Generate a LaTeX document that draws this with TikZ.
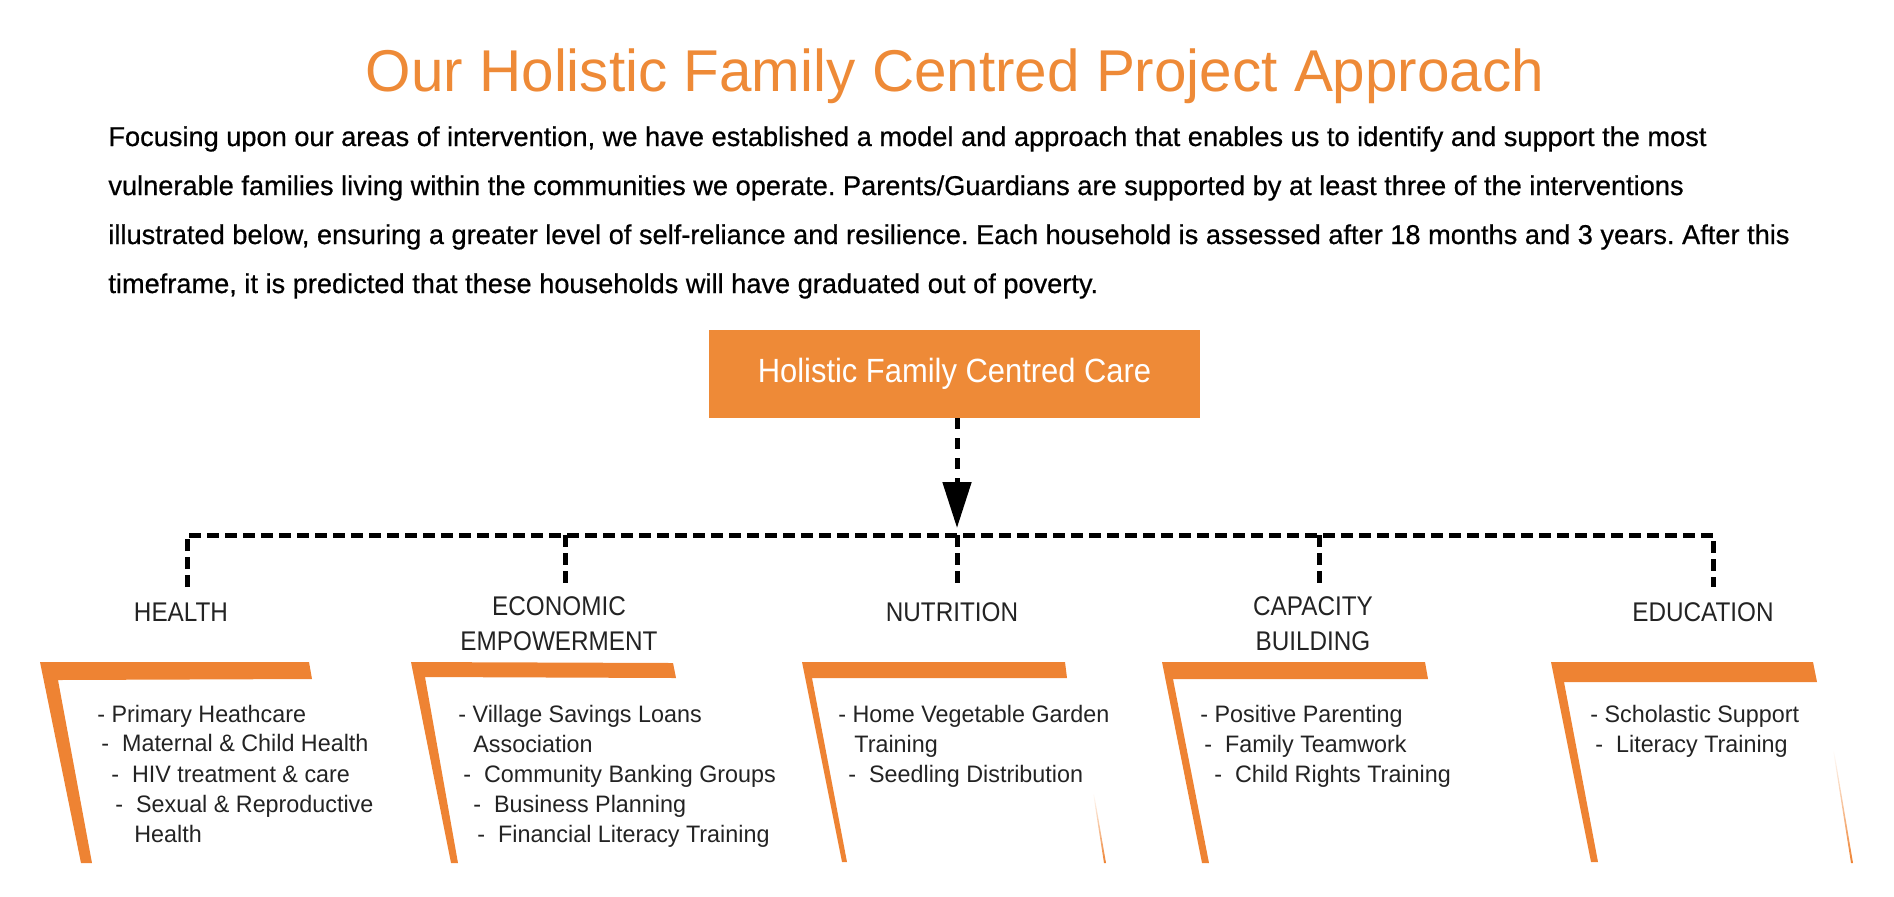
\documentclass[tikz,border=0pt]{standalone}
\usepackage{fontspec}
\setmainfont{Liberation Sans}[FakeStretch=0.98]
\newfontfamily\titleface{Liberation Sans}[FakeStretch=0.99]
\newfontfamily\paraface{Liberation Sans}[FakeBold=0.6]
\newfontfamily\narrowface{Liberation Sans}[FakeStretch=0.9]
\newfontfamily\boxface{Liberation Sans}[FakeStretch=0.92]
\usetikzlibrary{arrows.meta,positioning}
\frenchspacing

\definecolor{hfcorange}{HTML}{EE8A37}
\definecolor{hfcbar}{HTML}{EE8333}
\definecolor{hfcdark}{HTML}{232323}

\tikzset{
  heading/.style={inner sep=0pt, text=hfcorange, font=\titleface\fontsize{29.5}{35}\selectfont},
  intro/.style={inner sep=0pt, text=black, align=left, font=\paraface\fontsize{13.6}{24.5}\selectfont},
  carebox/.style={fill=hfcorange, text=white, minimum width=245.5pt, minimum height=44pt,
    font=\boxface\fontsize{16.8}{20}\selectfont},
  area/.style={inner sep=0pt, text=hfcdark, align=center, font=\narrowface\fontsize{13.5}{17.5}\selectfont},
  item/.style={inner sep=0pt, text=hfcdark, anchor=base west, font=\fontsize{11.9}{15}\selectfont},
  busline/.style={line width=2.5pt, dash pattern=on 6pt off 3pt},
  bracket/.style={fill=hfcbar},
  fade/.style={top color=white, bottom color=hfcbar}
}

\begin{document}
\begin{tikzpicture}[x=0.5pt, y=-0.5pt]
\useasboundingbox (0,0) rectangle (1894,896);

% title and introduction
\node[heading, anchor=base] (title) at (955,91) {Our Holistic Family Centred Project Approach};
\node[intro, anchor=base west] (intro) at (108,293) {Focusing upon our areas of intervention, we have established a model and approach that enables us to identify and support the most\\
vulnerable families living within the communities we operate. Parents/Guardians are supported by at least three of the interventions\\
illustrated below, ensuring a greater level of self-reliance and resilience. Each household is assessed after 18 months and 3 years. After this\\
timeframe, it is predicted that these households will have graduated out of poverty.};

% central box
\node[carebox] (care) at (954.5,374) {Holistic Family Centred Care};

% areas of intervention
\node[area] (health) at (181,612) {HEALTH};
\node[area] (econ) at (559,624) {ECONOMIC\\EMPOWERMENT};
\node[area] (nutri) at (952,612) {NUTRITION};
\node[area] (capac) at (1313,624) {CAPACITY\\BUILDING};
\node[area] (educ) at (1703,612) {EDUCATION};

% dashed bus
\coordinate (hub) at (957,535);
\coordinate (busL) at (187,535);
\coordinate (busR) at (1713,535);
\draw[busline, dash pattern=on 5.5pt off 4.5pt, -{Triangle[length=23pt,width=14pt]}, shorten >=3.5pt]
  (care.south -| hub) -- (hub);
\draw[busline] (187,587) -- (busL) -- (busR) -- (1713,587);
\draw[busline] (565,535) -- (565,587);
\draw[busline] (hub) -- (957,587);
\draw[busline] (1319,535) -- (1319,587);

% orange brackets
\fill[bracket] (40,662) -- (309,662) -- (312,679) -- (58,680) -- (92,863) -- (81,863) -- cycle;
\fill[bracket] (411,662) -- (673,663) -- (676,678) -- (425,677) -- (458,863) -- (451,863) -- cycle;
\fill[bracket] (802,662) -- (1065,662) -- (1067,678) -- (812,678) -- (847,862) -- (842,862) -- cycle;
\fill[bracket] (1162,662) -- (1425,662) -- (1428,679) -- (1173,679) -- (1209,863) -- (1202,863) -- cycle;
\fill[bracket] (1551,662) -- (1813,662) -- (1817,682) -- (1564,682) -- (1598,862) -- (1591,862) -- cycle;
\shade[fade] (1093,793) -- (1094,793) -- (1106,863) -- (1104,863) -- cycle;
\shade[fade] (1833,750) -- (1834,750) -- (1853,863) -- (1851,863) -- cycle;

% intervention lists
\node[item] (h1) at (97,722) {- Primary Heathcare};
\node[item] (h2) at (101,751) {-~~Maternal \& Child Health};
\node[item] (h3) at (111,782) {-~~HIV treatment \& care};
\node[item] (h4) at (115,812) {-~~Sexual \& Reproductive};
\node[item] (h5) at (134,842) {Health};

\node[item] (e1) at (458,722) {- Village Savings Loans};
\node[item] (e2) at (473,752) {Association};
\node[item] (e3) at (463,782) {-~~Community Banking Groups};
\node[item] (e4) at (473,812) {-~~Business Planning};
\node[item] (e5) at (477,842) {-~~Financial Literacy Training};

\node[item] (n1) at (838,722) {- Home Vegetable Garden};
\node[item] (n2) at (854,752) {Training};
\node[item] (n3) at (848,782) {-~~Seedling Distribution};

\node[item] (c1) at (1200,722) {- Positive Parenting};
\node[item] (c2) at (1204,752) {-~~Family Teamwork};
\node[item] (c3) at (1214,782) {-~~Child Rights Training};

\node[item] (d1) at (1590,722) {- Scholastic Support};
\node[item] (d2) at (1595,752) {-~~Literacy Training};
\end{tikzpicture}
\end{document}
